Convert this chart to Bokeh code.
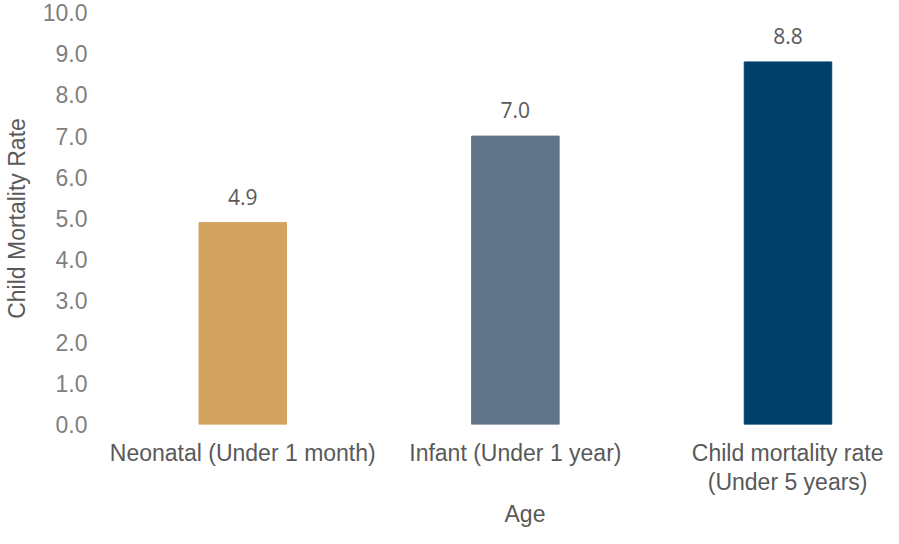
from bokeh.plotting import figure
from bokeh.models import ColumnDataSource, FixedTicker, Range1d, LabelSet, Title
from bokeh.core.properties import value
from bokeh.embed import file_html
from bokeh.resources import INLINE

categories = ["Neonatal (Under 1 month)", "Infant (Under 1 year)", "Child mortality rate\n(Under 5 years)"]
values = [4.9, 7.0, 8.8]
colors = ["#D4A35F", "#627588", "#00416B"]
positions = [0, 1, 2]
y_ticks = [0, 1, 2, 3, 4, 5, 6, 7, 8, 9, 10]

src = ColumnDataSource(dict(x=positions, top=values, color=colors,
                            label=[f"{v:.1f}" for v in values]))

p = figure(width=883, height=528, output_backend="svg", toolbar_location=None,
           x_range=Range1d(-0.5255, 2.3504), y_range=Range1d(0, 10),
           min_border_left=95, min_border_right=0, min_border_top=12, min_border_bottom=0)
p.outline_line_color = None
p.grid.visible = False
p.background_fill_color = "white"

p.vbar(x="x", top="top", bottom=0, width=0.321, color="color", source=src)

labels = LabelSet(x="x", y="top", text="label", source=src, text_align="center",
                  text_baseline="middle", y_offset=26, text_font=value("Open Sans"),
                  text_font_size="21px", text_color="#595959")
p.add_layout(labels)

yax = p.yaxis[0]
yax.ticker = FixedTicker(ticks=y_ticks)
yax.major_label_overrides = {t: f"{t:.1f}" for t in y_ticks}
yax.axis_line_color = None
yax.major_tick_line_color = None
yax.minor_tick_line_color = None
yax.major_tick_out = 0
yax.major_label_standoff = 12
yax.major_label_text_font = "Liberation Sans"
yax.major_label_text_font_size = "23px"
yax.major_label_text_color = "#808080"
yax.axis_label = "Child Mortality Rate"
yax.axis_label_text_font = "Liberation Sans"
yax.axis_label_text_font_size = "23px"
yax.axis_label_text_font_style = "normal"
yax.axis_label_text_color = "#595959"
yax.axis_label_standoff = 10

xax = p.xaxis[0]
xax.ticker = FixedTicker(ticks=positions)
xax.major_label_overrides = {pos: c for pos, c in zip(positions, categories)}
xax.axis_line_color = None
xax.major_tick_line_color = None
xax.minor_tick_line_color = None
xax.major_tick_out = 0
xax.major_label_standoff = 15
xax.major_label_text_font = "Liberation Sans"
xax.major_label_text_font_size = "23px"
xax.major_label_text_line_height = 1.12
xax.major_label_text_color = "#595959"

age_title = Title(text="Age", align="left", offset=405, standoff=3,
                  text_font="Liberation Sans", text_font_size="23px",
                  text_font_style="normal", text_color="#595959")
p.add_layout(age_title, "below")

open("out.html", "w").write(file_html(p, INLINE))
